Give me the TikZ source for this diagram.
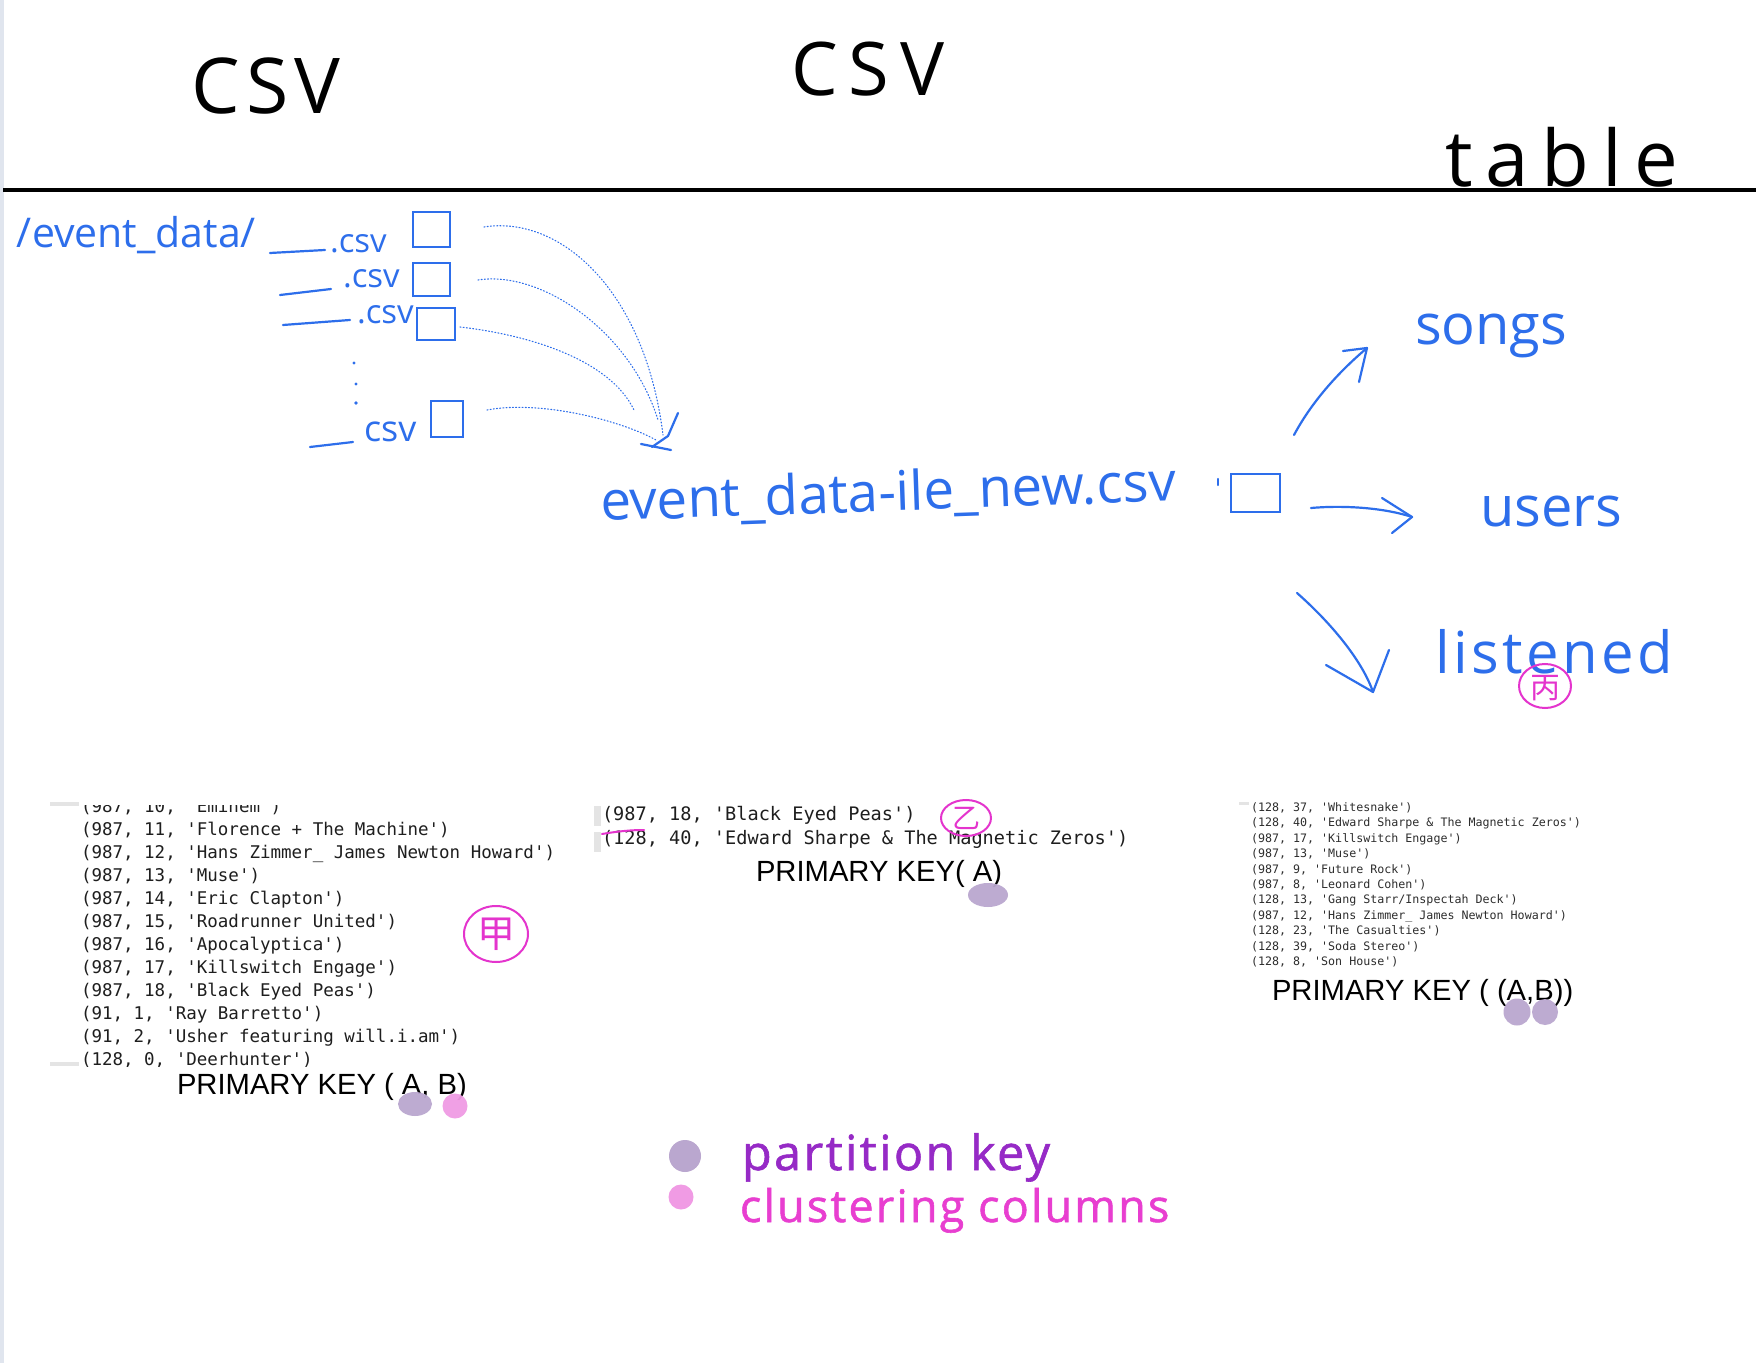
\documentclass[tikz,border=0pt]{standalone}
\usepackage{fontspec}
\setmonofont{DejaVu Sans Mono}
\newfontfamily\hand{Open Sans}
\newfontfamily\handA[LetterSpace=8]{Open Sans}
\newfontfamily\handB[LetterSpace=15]{Open Sans}
\newfontfamily\handT[LetterSpace=16]{Open Sans}
\newfontfamily\handL[LetterSpace=6]{Open Sans}
\newfontfamily\handG[LetterSpace=5,FakeBold=1.3]{Open Sans}
\newfontfamily\arialf{Liberation Sans}
\newfontfamily\cjk{Noto Sans CJK SC}
\newcommand\fsz[1]{\fontsize{#1}{#1}\selectfont}
\definecolor{hblue}{RGB}{45,110,235}
\definecolor{hpink}{RGB}{228,52,205}
\definecolor{pkdot}{RGB}{186,167,207}
\definecolor{ccdot}{RGB}{240,155,228}
\definecolor{pktext}{RGB}{150,42,198}
\definecolor{cctext}{RGB}{232,62,208}
\definecolor{bordergray}{RGB}{224,229,238}
\definecolor{codegray}{RGB}{30,30,30}
\definecolor{codegrayR}{RGB}{45,45,45}
\definecolor{barshade}{RGB}{228,228,228}
\tikzset{
  tx/.style={inner sep=0pt, outer sep=0pt},
  hw/.style={draw=hblue, line width=1.1pt, line cap=round, line join=round},
  boxn/.style={draw=hblue, line width=1.1pt, inner sep=0pt, outer sep=0pt},
  dotc/.style={draw=hblue, line width=0.55pt, dash pattern=on 0.5pt off 1.1pt, line cap=round},
  mk/.style={draw=hpink, line width=1pt, line cap=round},
  code/.style={tx, anchor=base west, text=codegray, font={\ttfamily\fsz{8.75}}},
  codeR/.style={tx, anchor=base west, text=codegrayR, font={\ttfamily\fsz{5.83}}},
  pk/.style={tx, anchor=base west, font={\arialf\fsz{14.6}}},
  bluetxt/.style={tx, text=hblue},
}
\begin{document}
\begin{tikzpicture}[x=0.5pt,y=-0.5pt]
\useasboundingbox (0,0) rectangle (1756,1363);
\fill[white] (0,0) rectangle (1756,1363);
\fill[bordergray] (0,0) rectangle (3.5,1363);

% ---------- header ----------
\node[tx, font={\handA\fsz{38.5}}] (csvA) at (266,86) {CSV};
\node[tx, font={\handB\fsz{37}}] (csvB) at (868,69) {CSV};
\node[tx, font={\handT\fsz{39}}] (tbl) at (1562,157) {table};
\draw[line width=1.6pt] (3,190) -- (1756,190);

% ---------- source csv files ----------
\node[bluetxt, anchor=base west, font={\hand\fsz{20.5}}] (evdir) at (17,248) {/event\_data/};
\node[bluetxt, anchor=base west, font={\hand\fsz{16.5}}] (f1) at (330,253) {.csv};
\node[bluetxt, anchor=base west, font={\hand\fsz{16.5}}] (f2) at (343,288) {.csv};
\node[bluetxt, anchor=base west, font={\hand\fsz{16.5}}] (f3) at (357,324) {.csv};
\node[bluetxt, anchor=base west, font={\hand\fsz{18}}] (f4) at (364,442) {csv};
\draw[hw] (270,253) -- (325,250);
\draw[hw] (280,295) -- (331,289);
\draw[hw] (283,325) -- (350,320);
\draw[hw] (310,447) -- (353,442);
\fill[hblue] (354,363) circle (1.6);
\fill[hblue] (356,384) circle (1.6);
\fill[hblue] (356,403) circle (1.8);
\node[boxn, minimum width=18.5pt, minimum height=17.5pt] (box1) at (431.5,229.5) {};
\node[boxn, minimum width=18.5pt, minimum height=16.5pt] (box2) at (431.5,279.5) {};
\node[boxn, minimum width=19pt, minimum height=16pt] (box3) at (436,324) {};
\node[boxn, minimum width=16pt, minimum height=18pt] (box4) at (447,419) {};

\coordinate (d1) at (484,227);
\coordinate (d2) at (478,280);
\coordinate (d3) at (460,327);
\coordinate (d4) at (487,410);
\coordinate (m1) at (663,435);
\coordinate (m2) at (658,420);
\coordinate (m3) at (634,410);
\coordinate (m4) at (656,440);
\coordinate (mtip) at (671,450);
\draw[dotc] (d1) .. controls (560,215) and (645,290) .. (m1);
\draw[dotc] (d2) .. controls (540,270) and (630,330) .. (m2);
\draw[dotc] (d3) .. controls (530,335) and (610,360) .. (m3);
\draw[dotc] (d4) .. controls (540,400) and (620,420) .. (m4);
\draw[hw] (641,444) -- (mtip);
\draw[hw] (678,413) -- (668,436) -- (652,447);

% ---------- merged csv ----------
\node[bluetxt, anchor=base west, rotate=2, font={\hand\fsz{27.3}}] (merged) at (601,521) {event\_data-ile\_new.csv};
\draw[hw] (1218,479) -- (1218,485);
\node[boxn, minimum width=24.5pt, minimum height=19pt] (mbox) at (1255.5,493) {};

% ---------- tables ----------
\node[bluetxt, anchor=base west, font={\hand\fsz{28}}] (songs) at (1415,345) {songs};
\node[bluetxt, anchor=base west, font={\hand\fsz{28}}] (users) at (1480,527) {users};
\node[bluetxt, anchor=base west, font={\handL\fsz{29}}] (listened) at (1435,674) {listened};

\coordinate (a1s) at (1294,435);
\coordinate (a1e) at (1367,348);
\coordinate (a2s) at (1311,508);
\coordinate (a2e) at (1412,517);
\coordinate (a3s) at (1297,593);
\coordinate (a3e) at (1373,692);
\draw[hw] (a1s) .. controls (1310,405) and (1335,375) .. (a1e);
\draw[hw] (1343,351) -- (a1e) -- (1359,382);
\draw[hw] (a2s) .. controls (1345,505) and (1385,508) .. (a2e);
\draw[hw] (1382,498) -- (a2e) -- (1392,533);
\draw[hw] (a3s) .. controls (1330,622) and (1362,660) .. (a3e);
\draw[hw] (1326,665) -- (a3e) -- (1389,650);

\draw[mk] (1545,686) ellipse (26 and 22);
\node[tx, text=hpink, font={\cjk\fsz{15}}] (bing) at (1545,688) {丙};

% ---------- left result ----------
\fill[barshade] (50,802) rectangle (79,806);
\fill[barshade] (50,1062) rectangle (79,1066);
\begin{scope}
\clip (40,805) rectangle (600,1066);
\foreach \t [count=\i] in {%
  {(987, 10, 'Eminem')},
  {(987, 11, 'Florence + The Machine')},
  {(987, 12, 'Hans Zimmer\_ James Newton Howard')},
  {(987, 13, 'Muse')},
  {(987, 14, 'Eric Clapton')},
  {(987, 15, 'Roadrunner United')},
  {(987, 16, 'Apocalyptica')},
  {(987, 17, 'Killswitch Engage')},
  {(987, 18, 'Black Eyed Peas')},
  {(91, 1, 'Ray Barretto')},
  {(91, 2, 'Usher featuring will.i.am')},
  {(128, 0, 'Deerhunter')}}
  \node[code] (lc\i) at (81,{812+23*(\i-1)}) {\t};
\end{scope}
\draw[mk] (496,934) ellipse (32 and 28);
\node[tx, text=hpink, font={\cjk\fsz{19}}] (jia) at (496,934) {甲};
\node[pk] (pkA) at (177,1094) {PRIMARY KEY ( A, B)};
\fill[pkdot, opacity=0.95] (415,1104) ellipse (17 and 12);
\fill[ccdot, opacity=0.95] (455,1106) circle (12.5);

% ---------- middle result ----------
\fill[barshade] (594,806) rectangle (601,826);
\fill[barshade] (594,832) rectangle (601,852);
\node[code, font={\ttfamily\fsz{9.3}}] (mc1) at (602,820) {(987, 18, 'Black Eyed Peas')};
\node[code, font={\ttfamily\fsz{9.3}}] (mc2) at (602,844) {(128, 40, 'Edward Sharpe \& The Magnetic Zeros')};
\draw[mk] (602,834) .. controls (620,831) and (632,830) .. (644,830);
\draw[mk] (966,818) ellipse (25 and 18);
\node[tx, text=hpink, font={\cjk\fsz{14}}] (yi) at (966,818) {乙};
\node[pk] (pkB) at (756,881) {PRIMARY KEY( A)};
\fill[pkdot, opacity=0.95] (988,895) ellipse (20 and 12);

% ---------- right result ----------
\fill[barshade] (1239,802) rectangle (1249,805);
\foreach \t [count=\i] in {%
  {(128, 37, 'Whitesnake')},
  {(128, 40, 'Edward Sharpe \& The Magnetic Zeros')},
  {(987, 17, 'Killswitch Engage')},
  {(987, 13, 'Muse')},
  {(987, 9, 'Future Rock')},
  {(987, 8, 'Leonard Cohen')},
  {(128, 13, 'Gang Starr/Inspectah Deck')},
  {(987, 12, 'Hans Zimmer\_ James Newton Howard')},
  {(128, 23, 'The Casualties')},
  {(128, 39, 'Soda Stereo')},
  {(128, 8, 'Son House')}}
  \node[codeR] (rc\i) at (1251,{811.5+15.4*(\i-1)}) {\t};
\node[pk] (pkC) at (1272,1000) {PRIMARY KEY ( (A,B))};
\fill[pkdot, opacity=0.95] (1517,1012) circle (13.5);
\fill[pkdot, opacity=0.95] (1545,1012) circle (13);

% ---------- legend ----------
\fill[pkdot] (685,1156) circle (16);
\fill[ccdot] (681,1197) circle (12.5);
\node[tx, anchor=base west, text=pktext, font={\handG\fsz{24.2}}] (lgP) at (742,1170) {partition key};
\node[tx, anchor=base west, text=cctext, font={\handG\fsz{22.4}}] (lgC) at (740,1222) {clustering columns};
\end{tikzpicture}
\end{document}
